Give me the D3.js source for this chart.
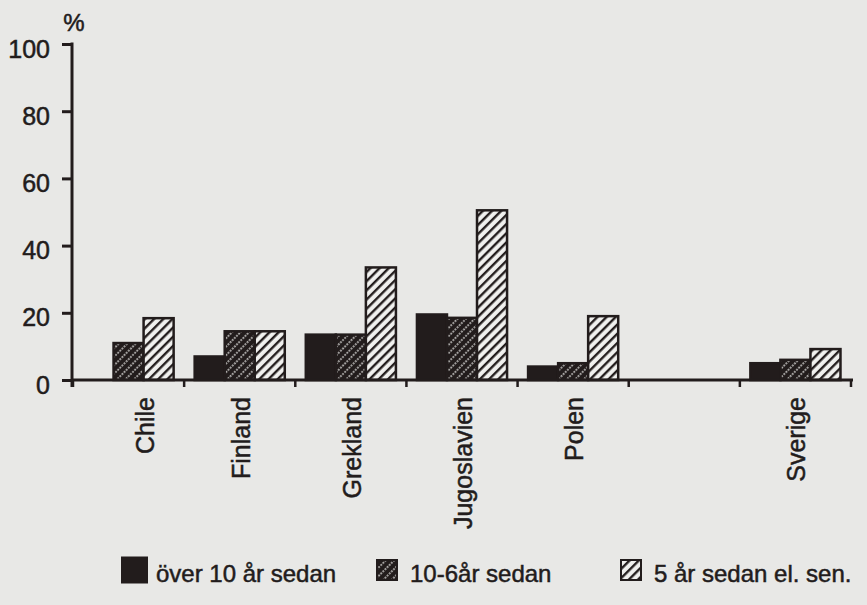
<!DOCTYPE html>
<html>
<head>
<meta charset="utf-8">
<script src="https://cdn.jsdelivr.net/npm/d3@7"></script>
<style>
  body { margin: 0; background: #e8e8e6; }
  svg text { font-family: "Liberation Sans", Arial, Helvetica, sans-serif; fill: #221c1c;
             stroke: #221c1c; stroke-width: 0.5px; }
</style>
</head>
<body>
<div id="chart"></div>
<script>
// data (percent)
const categories = ["Chile", "Finland", "Grekland", "Jugoslavien", "Polen", "", "Sverige"];
const series = ["över 10 år sedan", "10-6år sedan", "5 år sedan el. sen."];
const over10 = [0, 7, 13.5, 19.5, 4, null, 5];
const y10to6 = [11, 14.5, 13.5, 18.5, 5, null, 6];
const y5 = [18.4, 14.5, 33.5, 50.5, 19, null, 9.2];
const yTicks = [0, 20, 40, 60, 80, 100];

const values = [over10, y10to6, y5];
const ink = "#221c1c";

const width = 867, height = 605;
const svg = d3.select("#chart").append("svg")
  .attr("width", width).attr("height", height);

// hatch patterns
const defs = svg.append("defs");
const p1 = defs.append("pattern").attr("id", "mid")
  .attr("patternUnits", "userSpaceOnUse").attr("width", 6).attr("height", 6)
  .attr("patternTransform", "rotate(45)");
p1.append("rect").attr("width", 6).attr("height", 6).attr("fill", ink);
p1.append("line").attr("x1", 3).attr("x2", 3).attr("y1", 0).attr("y2", 6)
  .attr("stroke", "#e8e8e6").attr("stroke-width", 1.4).attr("stroke-dasharray", "1.8,1.2");

const p2 = defs.append("pattern").attr("id", "light")
  .attr("patternUnits", "userSpaceOnUse").attr("width", 6.5).attr("height", 6.5)
  .attr("patternTransform", "rotate(45)");
p2.append("rect").attr("width", 6.5).attr("height", 6.5).attr("fill", "#f1f1ef");
p2.append("line").attr("x1", 3).attr("x2", 3).attr("y1", 0).attr("y2", 6.5)
  .attr("stroke", ink).attr("stroke-width", 2.4);

const fills = [ink, "url(#mid)", "url(#light)"];

// scales
const x0 = d3.scaleBand().domain(categories.map((d, i) => i)).range([73, 851]).padding(0);
const x1 = d3.scaleBand().domain([0, 1, 2]).range([0, x0.bandwidth()])
  .paddingInner(0).paddingOuter(0.35);
const y = d3.scaleLinear().domain([0, 100]).range([380, 44]);

// bars
categories.forEach((c, i) => {
  values.forEach((s, k) => {
    const v = s[i];
    if (!v) return;
    svg.append("rect")
      .attr("x", x0(i) + x1(k))
      .attr("y", y(v))
      .attr("width", x1.bandwidth())
      .attr("height", y(0) - y(v))
      .attr("fill", fills[k])
      .attr("stroke", ink)
      .attr("stroke-width", 2.5);
  });
});

// y axis
const yAxis = svg.append("g").attr("transform", "translate(72,0)")
  .call(d3.axisLeft(y).tickValues(yTicks).tickSize(10).tickPadding(12));
yAxis.select(".domain").remove();
yAxis.selectAll("line").attr("stroke", ink).attr("stroke-width", 3);
yAxis.selectAll("text").attr("font-size", 25).attr("dy", "0.52em").style("fill", ink);
svg.append("line")
  .attr("x1", 72).attr("x2", 72).attr("y1", y(100) - 1.5).attr("y2", y(0) + 7)
  .attr("stroke", ink).attr("stroke-width", 3);

svg.append("text").attr("x", 74).attr("y", 31)
  .attr("text-anchor", "middle").attr("font-size", 24).text("%");

// x axis baseline and ticks between groups
svg.append("line")
  .attr("x1", 72).attr("x2", x0.range()[1] + 2).attr("y1", y(0)).attr("y2", y(0))
  .attr("stroke", ink).attr("stroke-width", 3);
const bounds = categories.map((c, i) => x0(i)).concat([x0.range()[1]]);
svg.selectAll(".xt").data(bounds).join("line")
  .attr("x1", d => d).attr("x2", d => d)
  .attr("y1", y(0)).attr("y2", y(0) + 7)
  .attr("stroke", ink).attr("stroke-width", 2.5);

// category labels, centred under the drawn bars
categories.forEach((c, i) => {
  if (!c) return;
  const drawn = values.map((s, k) => s[i] ? k : null).filter(k => k !== null);
  const left = x0(i) + x1(d3.min(drawn));
  const right = x0(i) + x1(d3.max(drawn)) + x1.bandwidth();
  const cx = (left + right) / 2 + 1;
  svg.append("text")
    .attr("transform", `translate(${cx},397) rotate(-90)`)
    .attr("text-anchor", "end").attr("dy", "0.36em")
    .attr("font-size", 25).text(c);
});

// legend
const legendX = [122, 377, 621];
const legend = svg.append("g");
series.forEach((s, k) => {
  const sz = k === 0 ? 25 : 20;
  legend.append("rect")
    .attr("x", legendX[k]).attr("y", 570 - sz / 2)
    .attr("width", sz).attr("height", sz)
    .attr("fill", fills[k]).attr("stroke", ink).attr("stroke-width", 2);
  legend.append("text")
    .attr("x", legendX[k] + (k === 0 ? 34 : 33)).attr("y", 582)
    .attr("font-size", 24).text(s);
});
</script>
</body>
</html>
